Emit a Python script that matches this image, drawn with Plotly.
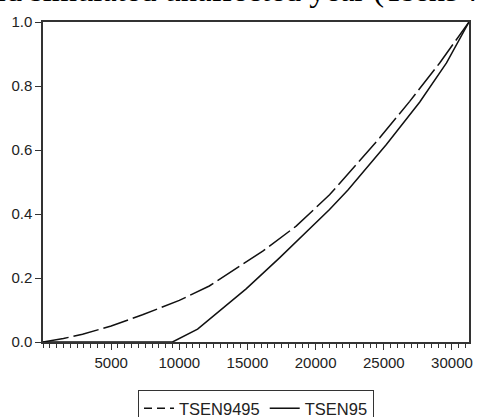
import plotly.graph_objects as go

# Data
tsen9495_x = [0, 1500, 2900, 5000, 7300, 9260, 10000, 12200, 13670, 16120, 18570, 21020, 24700, 26900, 29100, 31250]
tsen9495_y = [0.0, 0.011, 0.024, 0.050, 0.085, 0.117, 0.130, 0.175, 0.215, 0.284, 0.362, 0.460, 0.638, 0.752, 0.872, 1.0]

tsen95_x = [0, 9500, 11340, 13800, 14900, 17350, 19790, 21020, 22370, 25190, 27640, 29600, 31250]
tsen95_y = [0.0, 0.0, 0.040, 0.125, 0.166, 0.263, 0.362, 0.414, 0.475, 0.617, 0.750, 0.872, 1.0]

x_ticks = [5000, 10000, 15000, 20000, 25000, 30000]
y_ticks = [0.0, 0.2, 0.4, 0.6, 0.8, 1.0]
series_names = ["TSEN9495", "TSEN95"]
caption = "and simulated unaffected year (Tsen9495)"

line_color = "#111111"
fig = go.Figure()
fig.add_trace(go.Scatter(x=tsen9495_x, y=tsen9495_y, mode="lines", name=series_names[0], showlegend=False,
                         line=dict(color=line_color, width=1.5, dash="26px,5px")))
fig.add_trace(go.Scatter(x=tsen95_x, y=tsen95_y, mode="lines", name=series_names[1], showlegend=False,
                         line=dict(color=line_color, width=1.5)))
# legend-only entries (shorter dash pattern for the key sample)
fig.add_trace(go.Scatter(x=[None], y=[None], mode="lines", name=series_names[0],
                         line=dict(color=line_color, width=1.5, dash="8px,5px")))
fig.add_trace(go.Scatter(x=[None], y=[None], mode="lines", name=series_names[1],
                         line=dict(color=line_color, width=1.5)))

axis_font = dict(family="Liberation Sans, Arial", size=15, color="#222222")
legend_font = dict(family="Liberation Sans, Arial", size=16.5, color="#222222")
fig.update_layout(
    width=478, height=417,
    margin=dict(l=43, r=9, t=22, b=75, autoexpand=False),
    paper_bgcolor="white", plot_bgcolor="white",
    showlegend=True,
    legend=dict(orientation="h", x=0.5, xanchor="center", y=-0.15, yanchor="top",
                bordercolor="#333333", borderwidth=1, font=legend_font,
                itemwidth=30, tracegroupgap=0),
    xaxis=dict(range=[0, 31250], tickvals=x_ticks, ticktext=[str(v) for v in x_ticks],
               ticks="outside", ticklen=6, tickwidth=1, tickcolor="#333333",
               showline=True, linecolor="#333333", linewidth=1.5, mirror=True, automargin=False,
               showgrid=False, zeroline=False, tickfont=axis_font,
               minor=dict(dtick=500, tick0=0, ticks="outside", ticklen=4, tickcolor="#333333", showgrid=False)),
    yaxis=dict(range=[0, 1.0], tickvals=y_ticks, ticktext=[f"{v:.1f}" for v in y_ticks],
               ticks="outside", ticklen=6, tickwidth=1, tickcolor="#333333",
               showline=True, linecolor="#333333", linewidth=1.5, mirror=True, automargin=False,
               showgrid=False, zeroline=False, tickfont=axis_font),
    annotations=[dict(text=caption, xref="paper", yref="paper", x=-0.164, y=1.038,
                      xanchor="left", yanchor="bottom", showarrow=False,
                      font=dict(family="Liberation Serif, Times New Roman", size=32.5, color="black"))],
)

fig.write_html("out.html", config={"displayModeBar": False},
               post_script="document.body.style.margin='0';")
